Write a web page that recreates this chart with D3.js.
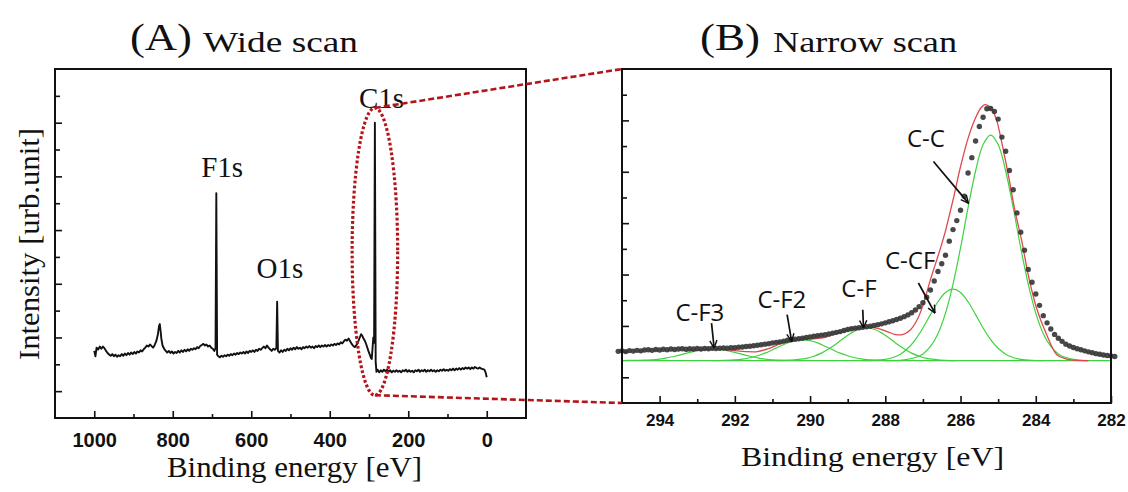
<!DOCTYPE html>
<html>
<head>
<meta charset="utf-8">
<script src="https://d3js.org/d3.v7.min.js"></script>
<style>
  body { margin: 0; background: #fff; }
  svg { display: block; }
  .tick text { font-family: "Liberation Sans", Arial, sans-serif; font-weight: bold; fill: #111; }
</style>
</head>
<body>
<div id="vis"></div>
<script>
// ---------- data ----------
// wide scan: [binding energy eV, intensity a.u.]
const WIDE_SCAN = [
  [1000,2.50],[997,2.30],[994,2.62],[990,2.55],[986,2.66],[982,2.58],[978,2.66],[974,2.60],[970,2.50],[966,2.42],
  [962,2.36],[958,2.32],[954,2.38],[950,2.30],[946,2.36],[942,2.28],[938,2.34],[934,2.30],[930,2.38],[926,2.32],
  [922,2.40],[918,2.34],[914,2.42],[910,2.36],[906,2.44],[902,2.38],[898,2.46],[894,2.40],[890,2.48],[886,2.44],
  [882,2.52],[878,2.48],[874,2.56],[870,2.62],[866,2.70],[862,2.66],[858,2.74],[854,2.68],[850,2.62],[846,2.72],
  [842,2.86],[838,3.10],[835,3.42],[833,3.50],[831,3.25],[829,2.95],[826,2.70],[822,2.58],[818,2.50],[814,2.44],
  [810,2.50],[806,2.42],[802,2.48],[798,2.40],[794,2.46],[790,2.42],[786,2.50],[782,2.44],[778,2.52],[774,2.46],
  [770,2.54],[766,2.48],[762,2.56],[758,2.50],[754,2.58],[750,2.54],[746,2.60],[742,2.56],[738,2.64],[734,2.60],
  [730,2.68],[726,2.72],[722,2.76],[718,2.70],[714,2.74],[710,2.66],[706,2.70],[702,2.62],[698,2.58],[694,2.50],
  [691,2.60],[689,8.37],[687,2.36],[684,2.30],[680,2.26],[676,2.32],[672,2.28],[668,2.34],[664,2.30],[660,2.36],
  [656,2.32],[652,2.38],[648,2.34],[644,2.40],[640,2.36],[636,2.42],[632,2.38],[628,2.44],[624,2.40],[620,2.46],
  [616,2.40],[612,2.48],[608,2.42],[604,2.50],[600,2.46],[596,2.52],[592,2.46],[588,2.54],[584,2.50],[580,2.58],
  [576,2.54],[572,2.60],[568,2.66],[564,2.60],[560,2.70],[556,2.62],[552,2.56],[548,2.50],[544,2.58],[540,2.54],
  [536,2.60],[534,4.33],[532,2.50],[528,2.44],[524,2.52],[520,2.46],[516,2.54],[512,2.50],[508,2.58],[504,2.52],
  [500,2.60],[496,2.54],[492,2.62],[488,2.56],[484,2.64],[480,2.58],[476,2.62],[472,2.56],[468,2.64],[464,2.60],
  [460,2.66],[456,2.62],[452,2.68],[448,2.62],[444,2.66],[440,2.60],[436,2.68],[432,2.64],[428,2.70],[424,2.64],
  [420,2.70],[416,2.66],[412,2.72],[408,2.66],[404,2.72],[400,2.68],[396,2.74],[392,2.70],[388,2.76],[384,2.72],
  [380,2.78],[376,2.74],[372,2.82],[368,2.78],[364,2.86],[360,2.92],[356,2.88],[352,2.96],[348,2.86],[344,2.76],
  [340,2.68],[336,2.64],[332,2.72],[328,2.82],[324,2.98],[320,3.12],[317,3.06],[314,2.96],[310,2.86],[306,2.70],
  [302,2.52],[298,2.36],[295,2.24],[293,2.20],[291,2.60],[289,3.00],[287,2.80],[285,11.0],[283,2.10],[281,1.72],
  [278,1.80],[274,1.70],[270,1.78],[266,1.72],[262,1.80],[258,1.74],[254,1.80],[250,1.72],[246,1.78],[242,1.70],
  [238,1.76],[234,1.72],[230,1.78],[226,1.72],[222,1.76],[218,1.70],[214,1.78],[210,1.74],[206,1.80],[202,1.72],
  [198,1.78],[194,1.72],[190,1.76],[186,1.70],[182,1.78],[178,1.74],[174,1.80],[170,1.72],[166,1.78],[162,1.74],
  [158,1.80],[154,1.72],[150,1.78],[146,1.74],[142,1.80],[138,1.74],[134,1.78],[130,1.72],[126,1.78],[122,1.74],
  [118,1.80],[114,1.76],[110,1.82],[106,1.76],[102,1.80],[98,1.76],[94,1.82],[90,1.78],[86,1.84],[82,1.78],
  [78,1.84],[74,1.80],[70,1.86],[66,1.80],[62,1.86],[58,1.82],[54,1.88],[50,1.84],[46,1.88],[42,1.82],
  [38,1.88],[34,1.84],[30,1.90],[26,1.86],[22,1.84],[18,1.88],[14,1.84],[10,1.82],[6,1.80],[3,1.70],[0,1.52]
];

const WIDE_PEAKS = [
  {label: "F1s", e: 674, u: 8.98},
  {label: "O1s", e: 527, u: 5.21},
  {label: "C1s", e: 268, u: 11.56}
];

// narrow scan measured points (dots)
const NARROW_DOTS = [
  [295.1,2.01],[295.0,2.03],[294.9,2.00],[294.8,2.04],[294.7,2.02],[294.6,2.05],[294.5,2.03],[294.4,2.06],[294.3,2.07],[294.2,2.05],
  [294.1,2.08],[294.0,2.06],[293.9,2.09],[293.8,2.07],[293.7,2.10],[293.6,2.08],[293.5,2.10],[293.4,2.11],[293.3,2.09],[293.2,2.11],
  [293.1,2.10],[293.0,2.12],[292.9,2.10],[292.8,2.12],[292.7,2.11],[292.6,2.13],[292.5,2.12],[292.4,2.13],[292.3,2.14],[292.2,2.13],
  [292.1,2.15],[292.0,2.15],[291.9,2.17],[291.8,2.18],[291.7,2.20],[291.6,2.21],[291.5,2.23],[291.4,2.25],[291.3,2.27],[291.2,2.29],
  [291.1,2.31],[291.0,2.34],[290.9,2.36],[290.8,2.38],[290.7,2.41],[290.6,2.44],[290.5,2.46],[290.4,2.48],[290.3,2.50],[290.2,2.52],
  [290.1,2.55],[290.0,2.57],[289.9,2.60],[289.8,2.62],[289.7,2.64],[289.6,2.66],[289.5,2.69],[289.4,2.72],[289.3,2.75],[289.2,2.78],
  [289.1,2.82],[289.0,2.86],[288.9,2.89],[288.8,2.91],[288.7,2.93],[288.6,2.95],[288.5,2.97],[288.4,2.99],[288.3,3.02],[288.2,3.05],
  [288.1,3.08],[288.0,3.12],[287.9,3.16],[287.8,3.20],[287.7,3.25],[287.6,3.30],[287.5,3.36],[287.4,3.43],[287.3,3.51],[287.2,3.62],
  [287.1,3.75],[287.0,3.90],[286.9,4.12],[286.8,4.40],[286.7,4.75],[286.6,5.12],[286.5,5.42],[286.4,5.75],[286.3,6.30],[286.2,6.75],
  [286.1,7.10],[286.0,7.50],[285.9,8.05],[285.8,8.95],[285.7,9.55],[285.6,10.20],[285.5,10.76],[285.4,11.12],[285.3,11.45],[285.2,11.46],
  [285.1,11.35],[285.0,11.05],[284.9,10.35],[284.8,9.80],[284.7,9.05],[284.6,8.30],[284.5,7.40],[284.4,6.65],[284.3,5.95],[284.2,5.20],
  [284.1,4.70],[284.0,4.24],[283.9,3.80],[283.8,3.40],[283.7,3.12],[283.6,2.88],[283.5,2.67],[283.4,2.52],[283.3,2.40],[283.2,2.29],
  [283.1,2.22],[283.0,2.16],[282.9,2.11],[282.8,2.07],[282.7,2.03],[282.6,1.99],[282.5,1.96],[282.4,1.92],[282.3,1.90],[282.2,1.87],
  [282.1,1.85],[282.0,1.83],[281.9,1.81]
];

// fitted envelope (red)
const NARROW_FIT = [
  [293.3,2.02],[292.9,2.07],[292.6,2.11],[292.3,2.09],[292.0,2.04],[291.7,2.00],[291.4,2.00],[291.1,2.12],[290.8,2.30],
  [290.5,2.44],[290.2,2.50],[289.9,2.50],[289.6,2.55],[289.3,2.70],[289.0,2.85],[288.7,2.93],[288.45,2.96],[288.2,2.90],
  [287.95,2.78],[287.75,2.67],[287.55,2.66],[287.35,2.82],[287.15,3.25],[287.0,3.80],[286.8,4.80],[286.55,5.95],
  [286.4,6.70],[286.2,7.90],[286.0,9.20],[285.8,10.30],[285.6,11.10],[285.45,11.50],[285.35,11.61],[285.2,11.50],
  [285.05,11.05],[284.91,10.18],[284.73,8.88],[284.55,7.46],[284.37,6.29],[284.2,4.99],[283.98,3.70],[283.71,2.66],
  [283.44,1.88],[283.2,1.72],[283.0,1.67],[282.6,1.65]
];

// fitted components (green)
const COMP_CC = [
  [287.8,1.65],[287.5,1.68],[287.2,1.77],[287.0,1.91],[286.8,2.20],[286.6,2.70],[286.4,3.50],[286.2,4.63],[286.0,6.04],
  [285.8,7.60],[285.6,9.03],[285.4,10.06],[285.2,10.43],[285.0,10.06],[284.8,9.03],[284.6,7.60],[284.4,6.04],[284.2,4.63],
  [284.0,3.50],[283.8,2.70],[283.6,2.20],[283.4,1.91],[283.2,1.77],[282.9,1.68],[282.6,1.65]
];
const COMP_CCF = [
  [288.6,1.65],[288.3,1.66],[288.0,1.70],[287.8,1.77],[287.6,1.90],[287.4,2.13],[287.2,2.47],[287.0,2.92],[286.8,3.44],
  [286.6,3.94],[286.4,4.30],[286.2,4.43],[286.0,4.30],[285.8,3.94],[285.6,3.44],[285.4,2.92],[285.2,2.47],[285.0,2.13],
  [284.8,1.90],[284.6,1.77],[284.4,1.70],[284.1,1.66],[283.8,1.65]
];
const COMP_CF = [
  [290.9,1.65],[290.6,1.66],[290.3,1.70],[290.1,1.74],[289.9,1.82],[289.7,1.94],[289.5,2.11],[289.3,2.31],[289.1,2.53],
  [288.9,2.73],[288.7,2.87],[288.5,2.92],[288.3,2.87],[288.1,2.73],[287.9,2.53],[287.7,2.31],[287.5,2.11],[287.3,1.94],
  [287.1,1.82],[286.9,1.74],[286.7,1.70],[286.4,1.66],[286.1,1.65]
];
const COMP_CF2 = [
  [292.6,1.65],[292.3,1.66],[292.0,1.68],[291.8,1.71],[291.6,1.76],[291.4,1.84],[291.2,1.94],[291.0,2.07],[290.8,2.21],
  [290.6,2.34],[290.4,2.43],[290.2,2.46],[290.0,2.43],[289.8,2.34],[289.6,2.21],[289.4,2.07],[289.2,1.94],[289.0,1.84],
  [288.8,1.76],[288.6,1.71],[288.4,1.68],[288.1,1.66],[287.8,1.65]
];
const COMP_CF3 = [
  [295.0,1.65],[294.7,1.66],[294.4,1.67],[294.2,1.68],[294.0,1.71],[293.8,1.76],[293.6,1.82],[293.4,1.89],[293.2,1.97],
  [293.0,2.04],[292.8,2.09],[292.6,2.11],[292.4,2.09],[292.2,2.04],[292.0,1.97],[291.8,1.89],[291.6,1.82],[291.4,1.76],
  [291.2,1.71],[291.0,1.68],[290.8,1.67],[290.5,1.66],[290.2,1.65]
];
const BASELINE_U = 1.65;

// annotations in panel B: label position and arrow (from -> tip)
const NARROW_LABELS = [
  {label: "C-F3", e: 292.93, u: 3.20, from: [292.62, 3.11], to: [292.55, 2.14]},
  {label: "C-F2", e: 290.75, u: 3.71, from: [290.61, 3.44], to: [290.49, 2.40]},
  {label: "C-F",  e: 288.70, u: 4.14, from: [288.60, 3.63], to: [288.58, 2.92]},
  {label: "C-CF", e: 287.34, u: 5.23, from: [287.12, 4.67], to: [286.68, 3.50]},
  {label: "C-C",  e: 286.92, u: 9.98, from: [286.72, 9.40], to: [285.79, 7.78]}
];

// zoom region around C1s in panel A (centre, half width eV, half height)
const ZOOM_REGION = {e: 285, u: 6.2, de: 58, du: 5.35};

const WIDE_MAJOR = [1000, 800, 600, 400, 200, 0];
const WIDE_MINOR = [900, 700, 500, 300, 100];
const NARROW_MAJOR = [294, 292, 290, 288, 286, 284, 282];
const NARROW_MINOR = [293, 291, 289, 287, 285, 283];
const Y_LONG = [1, 3, 5, 7, 9, 11];
const Y_SHORT = [2, 4, 6, 8, 10, 12];

// ---------- layout ----------
const FRAME_WIDTH = 1128;
const FRAME_HEIGHT = 492;
const PANEL_A = {left: 55, right: 526, top: 69, bottom: 418};
const PANEL_B = {left: 622, right: 1111, top: 69, bottom: 403};
const SERIF = "'Liberation Serif', Tinos, 'Times New Roman', Times, serif";

const SVG = d3.select("#vis")
  .append("svg")
    .attr("width", FRAME_WIDTH)
    .attr("height", FRAME_HEIGHT);

const X_A = d3.scaleLinear().domain([1100, -100]).range([PANEL_A.left, PANEL_A.right]);
const Y_A = d3.scaleLinear().domain([0, 13]).range([PANEL_A.bottom, PANEL_A.top]);
const X_B = d3.scaleLinear().domain([295, 282]).range([PANEL_B.left, PANEL_B.right]);
const Y_B = d3.scaleLinear().domain([0, 13]).range([PANEL_B.bottom, PANEL_B.top]);

// axis helper: inward ticks, no domain line
function addAxis(axis, tx, ty, fontSize, pad) {
  const g = SVG.append("g")
    .attr("transform", "translate(" + tx + "," + ty + ")")
    .call(axis.tickPadding(pad));
  g.select(".domain").remove();
  g.selectAll(".tick line").attr("stroke", "#111").attr("stroke-width", 1.6);
  g.selectAll(".tick text").attr("font-size", fontSize);
  return g;
}

// panel A axes
addAxis(d3.axisBottom(X_A).tickValues(WIDE_MAJOR).tickSize(-7).tickFormat(d3.format("d")), 0, PANEL_A.bottom, "20px", 15);
addAxis(d3.axisBottom(X_A).tickValues(WIDE_MINOR).tickSize(-4).tickFormat(""), 0, PANEL_A.bottom, "20px", 15);
addAxis(d3.axisLeft(Y_A).tickValues(Y_LONG).tickSize(-7).tickFormat(""), PANEL_A.left, 0, "20px", 3);
addAxis(d3.axisLeft(Y_A).tickValues(Y_SHORT).tickSize(-5).tickFormat(""), PANEL_A.left, 0, "20px", 3);

// panel B axes
addAxis(d3.axisBottom(X_B).tickValues(NARROW_MAJOR).tickSize(-7).tickFormat(d3.format("d")), 0, PANEL_B.bottom, "17px", 11);
addAxis(d3.axisBottom(X_B).tickValues(NARROW_MINOR).tickSize(-4).tickFormat(""), 0, PANEL_B.bottom, "17px", 11);
addAxis(d3.axisLeft(Y_B).tickValues(Y_LONG).tickSize(-7).tickFormat(""), PANEL_B.left, 0, "17px", 3);
addAxis(d3.axisLeft(Y_B).tickValues(Y_SHORT).tickSize(-5).tickFormat(""), PANEL_B.left, 0, "17px", 3);

// ---------- panel A spectrum ----------
const lineA = d3.line().x(d => X_A(d[0])).y(d => Y_A(d[1]));
SVG.append("path")
  .datum(WIDE_SCAN)
  .attr("d", lineA)
  .attr("fill", "none")
  .attr("stroke", "#111")
  .attr("stroke-width", 1.9)
  .attr("stroke-linejoin", "round");

SVG.selectAll(".peakA")
  .data(WIDE_PEAKS)
  .enter()
  .append("text")
    .attr("x", d => X_A(d.e))
    .attr("y", d => Y_A(d.u))
    .attr("text-anchor", "middle")
    .attr("font-family", SERIF)
    .attr("font-size", "29px")
    .attr("fill", "#111")
    .text(d => d.label);

// ---------- panel B fit ----------
const lineB = d3.line().x(d => X_B(d[0])).y(d => Y_B(d[1])).curve(d3.curveCatmullRom);
const GREEN = "#3fd23f";

[COMP_CF3, COMP_CF2, COMP_CF, COMP_CCF, COMP_CC].forEach(comp => {
  SVG.append("path")
    .datum(comp)
    .attr("d", lineB)
    .attr("fill", "none")
    .attr("stroke", GREEN)
    .attr("stroke-width", 1.2);
});

SVG.append("path")
  .datum([[X_B.domain()[0], BASELINE_U], [X_B.domain()[1], BASELINE_U]])
  .attr("d", d3.line().x(d => X_B(d[0])).y(d => Y_B(d[1])))
  .attr("stroke", GREEN)
  .attr("stroke-width", 1.4);

SVG.append("path")
  .datum(NARROW_FIT)
  .attr("d", lineB)
  .attr("fill", "none")
  .attr("stroke", "#e0474c")
  .attr("stroke-width", 1.3);

SVG.selectAll(".dot")
  .data(NARROW_DOTS)
  .enter()
  .append("circle")
    .attr("cx", d => X_B(d[0]))
    .attr("cy", d => Y_B(d[1]))
    .attr("r", 2.7)
    .attr("fill", "#383838")
    .attr("fill-opacity", 0.92);

// arrows + labels
SVG.append("defs").append("marker")
  .attr("id", "head")
  .attr("viewBox", "0 0 10 10")
  .attr("refX", 9.5).attr("refY", 5)
  .attr("markerWidth", 9).attr("markerHeight", 9)
  .attr("markerUnits", "userSpaceOnUse")
  .attr("orient", "auto")
  .append("path")
    .attr("d", "M1,1 L9.5,5 L1,9")
    .attr("fill", "none")
    .attr("stroke", "#111")
    .attr("stroke-width", 1.6);

SVG.selectAll(".arrow")
  .data(NARROW_LABELS)
  .enter()
  .append("line")
    .attr("x1", d => X_B(d.from[0])).attr("y1", d => Y_B(d.from[1]))
    .attr("x2", d => X_B(d.to[0])).attr("y2", d => Y_B(d.to[1]))
    .attr("stroke", "#111")
    .attr("stroke-width", 1.7)
    .attr("marker-end", "url(#head)");

SVG.selectAll(".labelB")
  .data(NARROW_LABELS)
  .enter()
  .append("text")
    .attr("x", d => X_B(d.e))
    .attr("y", d => Y_B(d.u))
    .attr("text-anchor", "middle")
    .attr("font-family", "'Open Sans', 'Noto Sans', sans-serif")
    .attr("font-size", "24px")
    .attr("fill", "#111")
    .text(d => d.label);

// ---------- frames ----------
[PANEL_A, PANEL_B].forEach(p => {
  SVG.append("rect")
    .attr("x", p.left).attr("y", p.top)
    .attr("width", p.right - p.left).attr("height", p.bottom - p.top)
    .attr("fill", "none")
    .attr("stroke", "#111")
    .attr("stroke-width", 2);
});

// ---------- zoom marker: dotted ellipse + dashed connectors ----------
const RED = "#b3151b";
const ellTop = [X_A(ZOOM_REGION.e), Y_A(ZOOM_REGION.u + ZOOM_REGION.du)];
const ellBot = [X_A(ZOOM_REGION.e), Y_A(ZOOM_REGION.u - ZOOM_REGION.du)];

SVG.append("ellipse")
  .attr("cx", X_A(ZOOM_REGION.e))
  .attr("cy", Y_A(ZOOM_REGION.u))
  .attr("rx", Math.abs(X_A(ZOOM_REGION.e + ZOOM_REGION.de) - X_A(ZOOM_REGION.e)))
  .attr("ry", Math.abs(Y_A(ZOOM_REGION.u + ZOOM_REGION.du) - Y_A(ZOOM_REGION.u)))
  .attr("fill", "none")
  .attr("stroke", RED)
  .attr("stroke-width", 3.2)
  .attr("stroke-dasharray", "2.8 2.2");

[[ellTop, [PANEL_B.left, PANEL_B.top]], [ellBot, [PANEL_B.left, PANEL_B.bottom]]].forEach(seg => {
  SVG.append("line")
    .attr("x1", seg[0][0]).attr("y1", seg[0][1])
    .attr("x2", seg[1][0]).attr("y2", seg[1][1])
    .attr("stroke", RED)
    .attr("stroke-width", 2.6)
    .attr("stroke-dasharray", "6 3");
});

// ---------- titles and axis labels ----------
function addText(x, y, str, size, len, anchor) {
  const t = SVG.append("text")
    .attr("x", x).attr("y", y)
    .attr("font-family", SERIF)
    .attr("font-size", size)
    .attr("fill", "#111")
    .attr("text-anchor", anchor || "start")
    .text(str);
  if (len) t.attr("textLength", len).attr("lengthAdjust", "spacingAndGlyphs");
  return t;
}

addText(130, 50, "(A)", "38px", 62);
addText(203, 52, "Wide scan", "30px", 155);
addText(700, 50, "(B)", "38px", 60);
addText(773, 52, "Narrow scan", "30px", 184);

addText(294.5, 477, "Binding energy [eV]", "30px", 255, "middle");
addText(872.5, 466, "Binding energy [eV]", "28px", 263, "middle");

SVG.append("text")
  .attr("transform", "translate(39,244) rotate(-90)")
  .attr("text-anchor", "middle")
  .attr("font-family", SERIF)
  .attr("font-size", "30px")
  .attr("fill", "#111")
  .attr("textLength", 232)
  .attr("lengthAdjust", "spacingAndGlyphs")
  .text("Intensity [urb.unit]");
</script>
</body>
</html>
